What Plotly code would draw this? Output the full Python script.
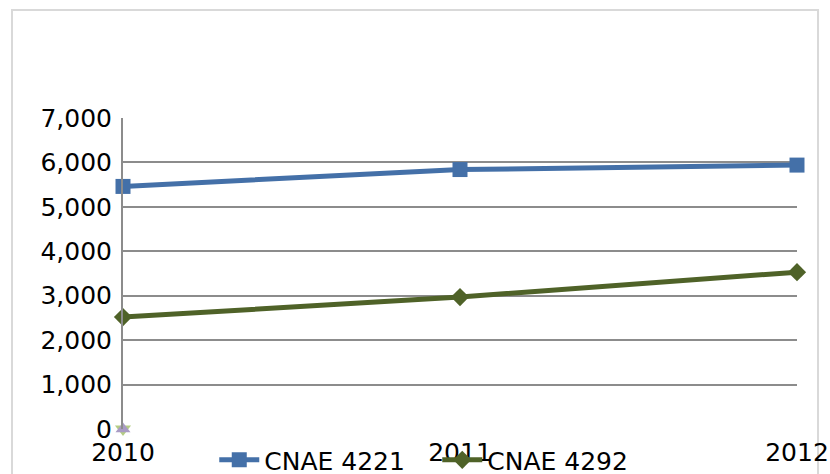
import plotly.graph_objects as go

years = [2010, 2011, 2012]
cnae_4221 = [5460, 5840, 5940]
cnae_4292 = [2520, 2970, 3530]
# two further series with a single zero value in the first year
zero_year = [2010]
zero_vals = [0]

y_ticks = [0, 1000, 2000, 3000, 4000, 5000, 6000, 7000]
y_tick_text = ["0", "1,000", "2,000", "3,000", "4,000", "5,000", "6,000", "7,000"]

font = dict(family="DejaVu Sans", size=25, color="#000000")

fig = go.Figure()
fig.add_trace(go.Scatter(
    x=years, y=cnae_4221, name="CNAE 4221", mode="lines+markers",
    line=dict(color="#4470A8", width=5),
    marker=dict(symbol="square", size=15, color="#4470A8"),
    cliponaxis=False,
))
fig.add_trace(go.Scatter(
    x=years, y=cnae_4292, name="CNAE 4292", mode="lines+markers",
    line=dict(color="#4F6228", width=5),
    marker=dict(symbol="diamond", size=14, color="#4F6228"),
    cliponaxis=False,
))
fig.add_trace(go.Scatter(
    x=zero_year, y=zero_vals, name="", mode="markers", showlegend=False,
    marker=dict(symbol="triangle-down", size=14, color="#B5CD85"),
    cliponaxis=False,
))
fig.add_trace(go.Scatter(
    x=zero_year, y=zero_vals, name="", mode="markers", showlegend=False,
    marker=dict(symbol="triangle-up", size=13, color="#A99BC4"),
    cliponaxis=False,
))

fig.update_layout(
    width=830, height=474,
    margin=dict(l=123, r=33, t=118, b=45, autoexpand=False),
    paper_bgcolor="white", plot_bgcolor="white",
    font=font,
    showlegend=True,
    legend=dict(
        orientation="h", x=0.1354, xanchor="left", y=-0.1, yanchor="middle",
        bgcolor="rgba(0,0,0,0)", font=font, itemwidth=40,
        entrywidth=168, entrywidthmode="pixels",
        traceorder="normal",
    ),
    xaxis=dict(
        range=[2010, 2012], tickvals=years, ticktext=[str(y) for y in years],
        showgrid=False, zeroline=False, showline=False, ticks="",
        ticklabelstandoff=6,
        tickfont=font, fixedrange=True, automargin=False,
    ),
    yaxis=dict(
        range=[0, 7000], tickvals=y_ticks, ticktext=y_tick_text,
        showgrid=True, gridcolor="#8C8C8C", gridwidth=2,
        zeroline=False, showline=True, linecolor="#8C8C8C", linewidth=2,
        ticks="", ticklabelstandoff=4, tickfont=font, fixedrange=True,
        automargin=False,
    ),
    shapes=[dict(
        type="rect", xref="paper", yref="paper",
        x0=-0.1647, x1=1.0312, y0=-0.2, y1=1.347,
        line=dict(color="#D9D9D9", width=2), fillcolor="rgba(0,0,0,0)",
        layer="below",
    )],
)

fig.write_html("out.html")
